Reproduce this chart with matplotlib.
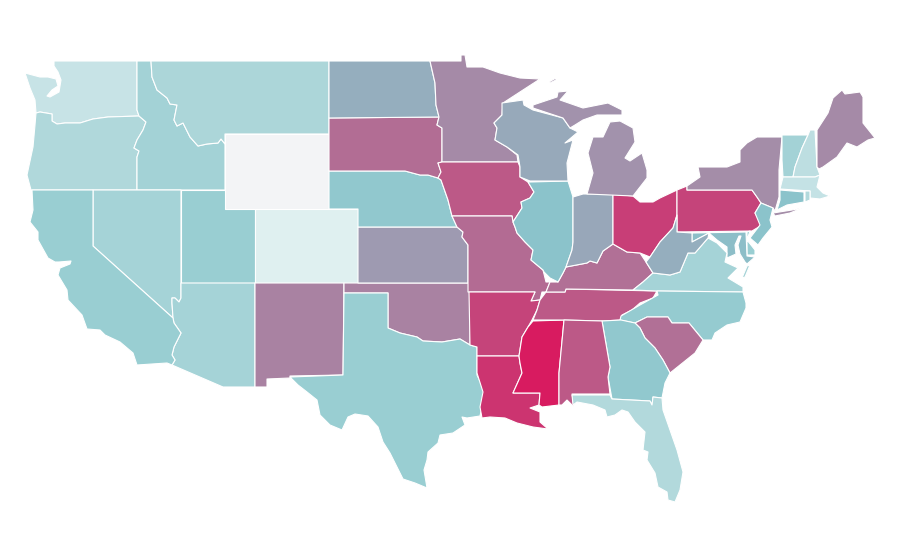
import matplotlib
matplotlib.use("Agg")
import matplotlib.pyplot as plt
from matplotlib.collections import PolyCollection
from matplotlib.colors import LinearSegmentedColormap

# State outlines (map units)
WA = [(54,61),(137,61),(137,110),(139,116),(108,117),(93,119),(80,123),(65,123),(57,124),(52,121),(52,114),(40,112),(36,113),(35,100),(30,88),(25,73),(40,77),(48,77),(56,79),(58,86),(52,90),(47,96),(50,97),(59,92),(61,80),(58,72),(54,66)]
OR = [(36,113),(40,112),(52,114),(52,121),(57,124),(65,123),(80,123),(93,119),(108,117),(139,116),(146,122),(143,130),(137,140),(134,148),(139,151),(137,157),(137,190),(31,190),(27,175),(33,147),(35,125)]
ID = [(137,61),(151,61),(152,77),(157,90),(167,98),(170,104),(177,105),(174,120),(177,126),(183,123),(190,137),(198,146),(207,144),(218,143),(221,139),(225,144),(225,190),(137,190),(137,157),(139,151),(134,148),(137,140),(143,130),(146,122),(139,116),(137,110)]
MT = [(151,61),(329,61),(329,134),(225,134),(225,144),(221,139),(218,143),(207,144),(198,146),(190,137),(183,123),(177,126),(174,120),(177,105),(170,104),(167,98),(157,90),(152,77)]
WY = [(225,134),(329,134),(329,209),(225,209)]
NV = [(93,190),(181,190),(181,298),(179,302),(175,298),(172,298),(172,303),(173,318),(93,246)]
UT = [(181,190),(225,190),(225,209),(255,209),(255,283),(181,283)]
AZ = [(181,283),(255,283),(255,387),(223,387),(172,365),(175,360),(172,355),(174,347),(181,333),(174,323),(173,318),(172,303),(172,298),(175,298),(179,302),(181,298)]
CA = [(32,190),(93,190),(93,246),(173,318),(174,323),(181,333),(174,347),(172,355),(175,360),(172,365),(167,363),(137,365),(133,353),(120,342),(105,335),(100,330),(87,329),(82,315),(68,300),(67,290),(58,275),(60,268),(70,264),(71,261),(59,262),(55,262),(48,258),(38,240),(38,232),(30,222),(33,210)]
CO = [(255,209),(358,209),(358,283),(255,283)]
NM = [(255,283),(344,283),(343,375),(290,376),(290,378),(267,379),(267,387),(255,387)]
OK = [(344,283),(469,283),(470,303),(470,345),(460,339),(442,342),(423,341),(417,337),(400,333),(388,328),(388,293),(344,293)]
TX = [(344,293),(388,293),(388,328),(400,333),(417,337),(423,341),(442,342),(460,339),(470,345),(477,347),(477,375),(485,392),(480,416),(467,418),(462,417),(465,425),(453,433),(440,435),(438,443),(428,452),(427,460),(424,470),(427,488),(415,483),(403,479),(397,467),(390,453),(383,442),(378,427),(368,416),(355,414),(348,417),(342,430),(330,425),(320,415),(317,400),(307,392),(298,385),(290,377),(343,375)]
KS = [(358,227),(457,227),(463,232),(462,237),(468,245),(468,283),(358,283)]
NE = [(329,171),(405,171),(420,175),(428,175),(438,178),(441,180),(448,200),(452,216),(457,227),(358,227),(358,209),(329,209)]
SD = [(329,118),(439,117),(437,125),(442,128),(442,162),(438,163),(441,172),(438,178),(428,175),(420,175),(405,171),(329,171)]
ND = [(329,61),(430,61),(435,83),(436,105),(439,117),(329,118)]
MN = [(430,61),(461,61),(461,55),(465,55),(467,67),(483,67),(500,73),(520,78),(540,79),(523,90),(503,103),(502,115),(494,123),(497,128),(495,140),(507,147),(517,155),(518,162),(442,162),(442,128),(437,125),(439,117),(436,105),(435,83)]
IA = [(442,162),(518,162),(520,167),(520,177),(528,182),(534,192),(530,198),(521,202),(522,208),(513,222),(512,216),(452,216),(448,200),(441,180),(438,178),(441,172),(438,163)]
MO = [(452,216),(512,216),(513,222),(515,227),(517,233),(525,242),(533,250),(531,260),(543,270),(546,282),(550,282),(546,292),(542,292),(540,300),(531,301),(535,292),(468,292),(468,245),(462,237),(463,232),(457,227)]
AR = [(469,292),(535,292),(531,301),(540,300),(537,310),(532,320),(528,327),(522,337),(519,356),(477,356),(477,347),(470,345)]
LA = [(477,356),(519,356),(520,363),(522,373),(513,393),(540,393),(539,405),(530,408),(540,412),(540,422),(548,429),(533,427),(517,423),(505,418),(490,417),(482,418),(480,407),(483,392),(477,373)]
MS = [(533,321),(564,320),(559,373),(559,405),(542,407),(539,405),(540,393),(513,393),(522,373),(520,363),(519,356),(522,337),(528,327)]
TN = [(533,320),(537,310),(540,300),(546,292),(565,292),(566,289),(657,291),(653,298),(640,303),(632,310),(622,315),(621,320),(602,321),(564,320)]
KY = [(546,292),(550,282),(558,282),(563,273),(566,267),(587,263),(590,261),(597,263),(603,251),(613,244),(627,252),(640,253),(646,262),(653,273),(643,282),(633,290),(566,289),(565,292)]
IL = [(530,182),(568,181),(573,197),(573,242),(572,250),(566,267),(563,273),(558,282),(550,278),(544,272),(543,270),(531,260),(533,250),(525,242),(517,233),(515,227),(513,222),(522,208),(521,202),(530,198),(534,192),(528,182)]
IN = [(573,197),(583,194),(613,194),(613,244),(603,251),(597,263),(590,261),(587,263),(566,267),(572,250),(573,242)]
OH = [(613,194),(633,196),(640,202),(653,202),(660,198),(677,190),(677,215),(673,228),(660,242),(650,257),(640,253),(627,252),(613,244)]
PA = [(677,190),(687,186),(687,190),(752,190),(757,197),(761,203),(755,213),(762,225),(752,231),(677,232)]
NY = [(687,186),(687,190),(752,190),(757,197),(761,203),(773,208),(775,211),(779,197),(779,170),(782,137),(757,137),(747,143),(740,150),(740,162),(727,167),(698,167),(700,177)]
LI = [(773,213),(792,210),(802,208),(790,213),(775,216)]
VT = [(782,135),(808,135),(802,148),(795,167),(793,177),(783,177),(782,160)]
NH = [(808,135),(810,130),(815,130),(817,167),(820,175),(815,177),(793,177),(795,167),(802,148)]
ME = [(817,130),(828,113),(833,98),(842,90),(845,94),(860,92),(863,97),(863,123),(875,138),(868,140),(857,147),(847,143),(837,157),(823,167),(819,169),(817,167)]
MA = [(783,177),(815,177),(820,175),(817,187),(823,193),(830,196),(820,199),(810,198),(810,191),(780,189)]
CT = [(780,190),(804,192),(804,202),(787,205),(777,210),(780,200)]
RI = [(805,191),(810,191),(810,200),(805,202)]
NJ = [(761,203),(773,208),(770,220),(772,227),(763,238),(758,245),(750,238),(760,225),(755,213)]
DE = [(747,232),(750,231),(747,240),(755,250),(755,255),(747,255)]
MD = [(692,233),(746,232),(747,256),(755,257),(747,264),(745,262),(740,254),(738,245),(741,236),(739,236),(735,245),(736,254),(727,258),(727,247),(717,240),(709,233),(692,242)]
VA = [(633,290),(643,282),(653,273),(670,275),(680,272),(688,253),(695,253),(708,238),(717,243),(727,253),(725,262),(738,268),(728,278),(743,287),(743,292),(657,291)]
VA_E = [(747,266),(750,265),(745,277),(742,278)]
WV = [(653,273),(646,262),(650,257),(660,242),(673,228),(677,215),(677,232),(692,233),(692,242),(709,233),(708,238),(695,253),(688,253),(680,272),(670,275)]
NC = [(657,291),(743,292),(746,303),(746,308),(740,322),(727,325),(715,333),(712,340),(703,340),(689,323),(672,323),(668,317),(647,317),(635,323),(620,320),(621,316),(640,305),(658,295)]
SC = [(635,323),(647,317),(668,317),(672,323),(689,323),(703,340),(695,353),(670,373),(663,360),(655,348),(645,338),(640,328)]
GA = [(602,321),(621,320),(635,323),(640,328),(645,338),(655,348),(663,360),(670,373),(665,383),(662,398),(653,397),(652,405),(650,401),(612,399),(608,377),(610,367)]
AL = [(564,320),(602,321),(610,367),(608,377),(610,394),(572,394),(573,400),(574,407),(567,400),(562,405),(559,405),(559,373)]
FL = [(572,395),(610,395),(612,399),(650,401),(652,405),(653,397),(662,398),(663,410),(670,430),(677,450),(683,472),(680,490),(675,502),(668,500),(667,492),(658,487),(655,473),(647,460),(648,452),(643,450),(645,432),(635,422),(628,412),(622,410),(615,415),(607,417),(605,410),(593,405),(577,402),(573,405)]
WI = [(502,103),(523,100),(524,105),(533,110),(563,118),(570,128),(578,132),(565,143),(573,140),(567,163),(568,181),(530,181),(520,177),(520,167),(518,155),(507,147),(495,140),(497,128),(494,123),(502,115)]
MI_U = [(533,108),(533,105),(557,97),(558,92),(568,91),(560,100),(583,108),(608,103),(622,110),(622,115),(612,115),(597,115),(583,120),(575,125),(570,128),(563,118)]
MI_L = [(610,122),(620,121),(633,128),(635,142),(625,158),(630,161),(642,153),(647,170),(647,178),(633,196),(587,194),(593,173),(588,153),(593,137),(603,137)]
MI_I = [(549,82),(556,78),(556,80),(550,83)]

# Value of each state on the chart's colour scale
state_shapes = [WA,OR,ID,MT,WY,NV,UT,AZ,CA,CO,NM,OK,TX,KS,NE,SD,ND,MN,IA,MO,AR,LA,MS,TN,KY,IL,IN,OH,PA,NY,LI,VT,NH,ME,MA,CT,RI,NJ,DE,MD,VA,VA_E,WV,NC,SC,GA,AL,FL,WI,MI_U,MI_L,MI_I]
state_values = [12,19,24,20,0,23,28,23,28,4,60,60,28,51,32,68,43,57,76,69,84,90,100,76,67,35,46,86,84,56,56,24,15,57,12.5,35,18,35,28,37,23,23,43,30,67,32,76,18,45,54,54,54]

scale = LinearSegmentedColormap.from_list("scale", [(0,"#f3f4f6"),(.04,"#dff0f0"),(.12,"#c6e3e6"),(.2,"#acd6d9"),(.28,"#99ced2"),(.35,"#8bc3cb"),(1,"#d81b60")])

fig = plt.figure(figsize=(9, 5.6), dpi=100)
ax = fig.add_axes([0, 0, 1, 1])
coll = PolyCollection(state_shapes, array=state_values, cmap=scale, clim=(0, 100), edgecolors="white", linewidths=0.8)
ax.add_collection(coll)
ax.set_xlim(0, 900)
ax.set_ylim(560, 0)
ax.axis("off")
fig.savefig("out.png", dpi=100, facecolor="white")
